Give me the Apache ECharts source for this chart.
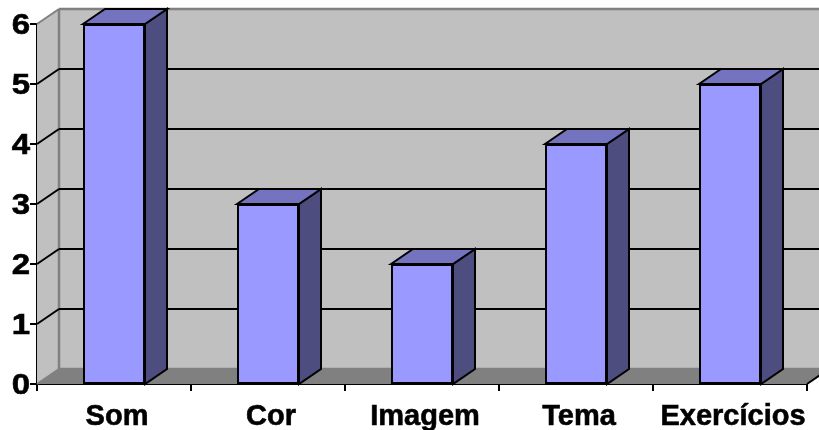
<!DOCTYPE html>
<html><head><meta charset="utf-8">
<style>html,body{margin:0;padding:0;background:#fff}#c{width:819px;height:430px}</style>
<script src="https://cdn.jsdelivr.net/npm/echarts@6/dist/echarts.min.js"></script>
</head><body><div id="c"></div>
<script>
const categories = ['Som','Cor','Imagem','Tema','Exercícios'];
const values = [6,3,2,4,5];
const yTicks = [0,1,2,3,4,5,6];
const DX = 22, DY = 15, BAR = 62;
const chart = echarts.init(document.getElementById('c'), null, {renderer:'canvas'});
function poly(points, fill, stroke, lw){
  return {type:'polygon', shape:{points}, style:{fill, stroke:stroke||null, lineWidth:lw||0, lineJoin:'miter'}};
}
function line(a,b,stroke,lw){
  return {type:'line', shape:{x1:a[0],y1:a[1],x2:b[0],y2:b[1]}, style:{stroke, lineWidth:lw}};
}
chart.setOption({
  animation:false,
  backgroundColor:'#fff',
  grid:{left:37,right:12,top:24,bottom:46,containLabel:false,outerBoundsMode:'none'},
  xAxis:{type:'category',data:categories,
    axisLine:{show:true,onZero:false,lineStyle:{color:'#000',width:2}},
    axisTick:{show:true,length:7,alignWithLabel:false,lineStyle:{color:'#000',width:2}},
    axisLabel:{color:'#000',fontFamily:'Liberation Sans',fontWeight:'bold',fontSize:29,margin:18,interval:0,
      padding:[0,0,0,6],textBorderColor:'#000',textBorderWidth:0.6},
    splitLine:{show:false}},
  yAxis:{type:'value',min:0,max:6,interval:1,
    axisLine:{show:true,lineStyle:{color:'#000',width:2}},
    axisTick:{show:true,length:7,lineStyle:{color:'#000',width:2}},
    axisLabel:{show:false},
    splitLine:{show:false}},
  series:[
    {type:'custom',silent:true,z:1,clip:false,
     data:[[0,0]],encode:{x:0,y:1},
     renderItem(p,api){
      const o=api.coord([0,0]), t=api.coord([0,6]);
      const size=api.size([1,0])[0];
      const x0=o[0]-size/2, x1=x0+size*categories.length, y0=o[1], y6=t[1];
      const c=[];
      c.push(poly([[x0+DX,y6-DY],[x1+DX,y6-DY],[x1+DX,y0-DY],[x0+DX,y0-DY]],'#C0C0C0'));
      c.push(poly([[x0,y6],[x0+DX,y6-DY],[x0+DX,y0-DY],[x0,y0]],'#C0C0C0'));
      c.push(poly([[x0,y0],[x0+DX,y0-DY],[x1+DX,y0-DY],[x1,y0]],'#808080'));
      c.push(line([x0,y6],[x0+DX,y6-DY],'#808080',2));
      c.push(line([x0+DX,y6-DY],[x1+DX,y6-DY],'#808080',2.5));
      c.push(line([x0+DX,y6-DY],[x0+DX,y0-DY],'#808080',2.5));
      c.push(line([x0+DX,y0-DY],[x1+DX,y0-DY],'#808080',2.5));
      c.push(line([x0,y0],[x0+DX,y0-DY],'#808080',2));
      for(const v of yTicks.slice(1,-1)){
        const y=api.coord([0,v])[1];
        c.push(line([x0,y],[x0+DX,y-DY],'#000',2));
        c.push(line([x0+DX,y-DY],[x1+DX,y-DY],'#000',2));
      }
      c.push(line([x1,y0],[x1+DX,y0-DY],'#000',2));
      return {type:'group',children:c};
     }},
    {type:'bar',data:values,barWidth:BAR,z:3,
     itemStyle:{color:'#9999FF',borderColor:'#000',borderWidth:2}},
    {type:'custom',silent:true,z:2,clip:false,
     data:values.map((v,i)=>[i,v]),encode:{x:0,y:1},
     renderItem(p,api){
      const i=api.value(0), v=api.value(1);
      const top=api.coord([i,v]), bot=api.coord([i,0]);
      const l=top[0]-BAR/2, r=top[0]+BAR/2;
      return {type:'group',children:[
        poly([[r,top[1]],[r+DX,top[1]-DY],[r+DX,bot[1]-DY],[r,bot[1]]],'#4D4D80','#000',2),
        poly([[l,top[1]],[l+DX,top[1]-DY],[r+DX,top[1]-DY],[r,top[1]]],'#7373BF','#000',2)
      ]};
     }},
    {type:'custom',silent:true,z:4,clip:false,
     data:yTicks.map(v=>[0,v]),encode:{x:0,y:1},
     renderItem(p,api){
      const v=api.value(1), pos=api.coord([0,v]);
      const x0=pos[0]-api.size([1,0])[0]/2;
      return {type:'text',x:x0-7,y:pos[1]+2,scaleX:1.1,scaleY:1,
        style:{text:String(v),fill:'#000',align:'right',verticalAlign:'middle',
          fontFamily:'Liberation Sans',fontWeight:'bold',fontSize:30,
          stroke:'#000',lineWidth:0.6}};
     }}
  ]
});
</script></body></html>
